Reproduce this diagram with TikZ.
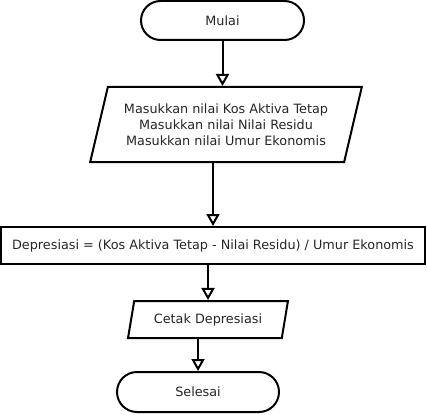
\documentclass[tikz,border=0pt]{standalone}
\usepackage{fontspec}
\setmainfont{DejaVu Sans}
\usetikzlibrary{shapes.geometric,shapes.misc,arrows.meta}
\begin{document}
\begin{tikzpicture}[x=1pt,y=-1pt,
  box/.style={draw, line width=2pt, inner sep=0pt, text=black!85,
    font=\fontsize{12.8}{16}\selectfont, align=center},
  term/.style={box, rounded rectangle},
  io/.style={box, trapezium, trapezium left angle=70, trapezium right angle=110,
    trapezium stretches=true},
  proc/.style={box, rectangle},
  flow/.style={-{Triangle[open,length=12pt,width=13pt]}, line width=2pt}]
\useasboundingbox (0,0) rectangle (427,414);
\node[term, minimum width=163pt, minimum height=39pt] (M) at (222.5,20.5) {Mulai};
\node[io, minimum width=272pt, minimum height=75pt] (P1) at (226,124.5)
  {Masukkan nilai Kos Aktiva Tetap\\Masukkan nilai Nilai Residu\\Masukkan nilai Umur Ekonomis};
\node[proc, minimum width=424pt, minimum height=37pt] (R) at (213,245.5)
  {Depresiasi = (Kos Aktiva Tetap - Nilai Residu) / Umur Ekonomis};
\node[io, minimum width=160pt, minimum height=37pt] (C) at (208,319.5) {Cetak Depresiasi};
\node[term, minimum width=162pt, minimum height=40pt] (S) at (198,392) {Selesai};
\draw[flow] (M.south) -- (M.south |- P1.north);
\draw[flow] (P1.south -| R.north) -- (R.north);
\draw[flow] (R.south -| C.north) -- (C.north);
\draw[flow] (C.south -| S.north) -- (S.north);
\end{tikzpicture}
\end{document}
